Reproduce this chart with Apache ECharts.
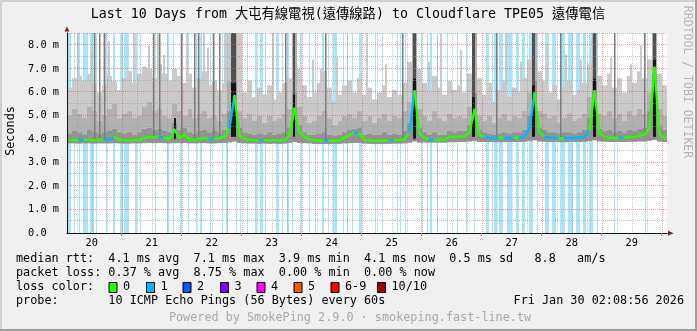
<!DOCTYPE html>
<html><head><meta charset="utf-8">
<script src="https://cdn.jsdelivr.net/npm/echarts@6/dist/echarts.min.js"></script>
<style>html,body{margin:0;padding:0;background:#f0f0f0}#c{width:697px;height:331px}</style>
</head><body><div id="c"></div>
<script>
// ---------------- DATA ----------------
const START = new Date(2026, 0, 20, 2, 8, 56).getTime();   // graph start (10 days before end)
const SPAN_HOURS = 240;
const BIN_HOURS = 2;            // resolution of the smoke / median arrays
const Y_MAX = 8.53;             // seconds axis top (ms)
const dayNumbers = [20, 21, 22, 23, 24, 25, 26, 27, 28, 29];
const yTickValues = [0, 1, 2, 3, 4, 5, 6, 7, 8];
const yMinorValues = [0.5, 1.5, 2.5, 3.5, 4.5, 5.5, 6.5, 7.5, 8.5];

// median rtt per 2h bin (ms)
const median = [
 3.97,3.98,3.97,3.99,3.97,3.96,3.98,3.97,3.99,4.10,
 3.98,3.97,3.96,3.96,3.97,4.05,4.10,4.08,4.12,4.05,
 4.00,4.40,4.05,4.20,3.98,3.97,4.02,4.05,3.99,4.02,
 4.05,4.10,4.50,5.85,4.15,
 4.02,3.97,3.96,3.95,3.96,3.95,3.96,3.95,3.96,4.15,
 5.30,4.30,
 4.10,4.00,3.96,3.94,3.93,3.93,3.94,3.95,4.07,4.18,4.28,4.25,
 3.97,3.95,3.94,3.93,3.94,3.95,3.96,3.97,4.00,4.30,6.05,4.25,
 4.05,3.98,3.97,3.98,3.98,4.10,4.08,4.10,4.12,4.30,5.25,4.18,
 4.08,4.05,4.04,4.04,4.05,4.05,4.06,4.07,4.10,4.45,5.95,4.30,
 4.10,4.06,4.05,4.04,4.04,4.05,4.05,4.06,4.10,4.40,6.05,4.25,
 4.10,4.06,4.05,4.06,4.07,4.08,4.10,4.15,4.20,4.50,7.05,4.20,4.05
];
// lost pings (of 10) per bin, selects the median colour
const medianLoss = [
 1,0,0,1,0,0,0,0,1,1,
 0,0,0,0,0,0,0,0,0,1,
 0,0,0,0,0,0,0,0,0,1,
 0,0,0,1,0,
 0,0,0,0,1,0,0,0,0,0,
 0,0,
 0,0,0,0,0,1,0,0,0,0,0,1,
 0,0,0,0,0,0,1,0,0,0,1,0,
 0,0,1,0,0,0,0,0,0,0,0,0,
 0,1,1,1,0,1,1,0,1,1,1,0,
 0,1,1,1,0,1,1,1,1,1,0,0,
 0,0,0,0,1,0,0,0,0,0,0,0,0
];
// smoke: lowest ping, top of dark core, top of mid band, highest ping
const smokeLow = [
 3.82,3.82,3.81,3.82,3.82,3.81,3.82,3.82,3.82,3.83,
 3.82,3.81,3.81,3.82,3.82,3.83,3.84,3.83,3.84,3.83,
 3.82,3.84,3.83,3.84,3.82,3.82,3.83,3.83,3.82,3.82,
 3.83,3.84,3.86,3.90,3.84,
 3.82,3.81,3.81,3.80,3.81,3.80,3.81,3.80,3.81,3.84,
 3.88,3.84,
 3.83,3.82,3.80,3.79,3.79,3.79,3.80,3.80,3.82,3.83,3.84,3.84,
 3.81,3.80,3.79,3.79,3.80,3.80,3.81,3.81,3.82,3.85,3.90,3.85,
 3.86,3.85,3.85,3.85,3.85,3.87,3.87,3.88,3.88,3.90,3.92,3.88,
 3.88,3.88,3.87,3.87,3.88,3.88,3.88,3.88,3.89,3.92,3.95,3.90,
 3.89,3.88,3.88,3.87,3.87,3.88,3.88,3.88,3.89,3.92,3.95,3.90,
 3.89,3.88,3.88,3.88,3.88,3.89,3.89,3.90,3.90,3.93,3.96,3.90,3.88
];
const smokeDark = [
 4.25,4.35,4.30,4.20,4.40,4.30,4.25,4.30,4.35,4.45,
 4.30,4.25,4.30,4.20,4.30,4.45,4.50,4.40,4.45,4.35,
 4.30,4.70,4.40,4.50,4.30,4.25,4.35,4.40,4.30,4.35,
 4.30,4.40,5.20,6.50,4.50,
 4.30,4.25,4.20,4.25,4.20,4.30,4.20,4.25,4.30,4.50,
 6.00,4.60,
 4.30,4.20,4.20,4.25,4.30,4.20,4.15,4.20,4.30,4.40,4.45,4.50,
 4.20,4.25,4.20,4.20,4.30,4.20,4.25,4.20,4.35,4.70,6.50,4.50,
 4.30,4.20,4.30,4.20,4.20,4.35,4.30,4.35,4.35,4.60,6.00,4.40,
 4.30,4.25,4.20,4.25,4.30,4.25,4.30,4.30,4.40,5.00,6.50,4.50,
 4.40,4.30,4.30,4.25,4.30,4.30,4.25,4.30,4.40,4.90,6.50,4.45,
 4.35,4.40,4.30,4.35,4.30,4.40,4.35,4.45,4.50,5.20,6.80,4.60,4.40
];
const smokeMid = [
 5.0,5.3,5.1,4.9,5.4,5.2,4.8,5.0,5.3,5.5,
 4.9,5.1,5.2,4.9,5.0,5.4,5.6,5.2,5.3,5.0,
 4.9,5.5,5.2,5.0,5.3,4.9,5.1,5.2,4.9,5.0,
 4.8,5.1,6.5,8.6,5.2,
 4.9,5.1,4.8,5.0,4.7,5.0,4.8,4.9,5.1,5.3,
 8.6,5.4,
 5.0,4.7,4.8,5.0,5.2,4.9,4.6,4.8,5.0,5.1,4.9,5.2,
 4.8,5.0,4.7,4.9,5.1,4.8,5.0,4.9,5.2,5.6,8.6,5.3,
 5.0,4.8,5.2,4.9,4.8,5.1,4.9,5.0,4.9,5.4,8.6,5.0,
 4.8,5.0,4.7,4.9,5.1,4.8,5.0,4.9,5.2,6.0,8.6,5.2,
 5.1,4.9,5.0,4.7,4.9,5.1,4.8,4.9,5.1,5.8,8.6,5.1,
 5.0,5.2,4.9,5.1,4.8,5.2,5.0,5.3,5.1,6.0,8.6,5.3,5.0
];
const smokeTop = [
 6.2,6.6,6.7,6.5,6.8,6.4,6.0,6.3,6.7,6.5,
 6.1,6.6,6.9,6.4,6.8,7.1,7.0,6.6,7.2,6.8,
 6.5,7.0,6.7,6.4,6.8,6.2,6.6,6.9,6.3,6.5,
 6.1,6.4,8.6,8.6,8.6,
 6.0,6.5,5.8,6.2,5.9,6.3,5.7,6.0,6.4,6.6,
 8.6,7.0,
 6.3,5.8,6.0,6.4,6.9,6.2,5.6,5.9,6.3,6.5,6.0,6.6,
 5.9,6.2,5.7,6.0,6.3,5.8,6.1,5.9,6.4,7.3,8.6,7.0,
 6.4,6.0,6.7,6.2,5.9,6.5,6.1,6.3,6.0,6.8,8.6,6.6,
 5.9,6.4,5.6,6.1,6.5,5.8,6.2,6.0,6.6,7.4,8.6,6.9,
 6.5,6.0,6.3,5.7,6.2,6.5,5.9,6.1,6.4,7.2,8.6,6.7,
 6.3,6.8,6.2,6.6,6.0,6.7,6.4,6.9,6.6,7.4,8.6,6.8,6.3
];
// dense evening peaks: [startHour, endHour, low ms, black-core top ms, dark smoke top ms]
const peaks = [
 [65.6, 67.6, 4.1, 6.4, 8.6], [90.2, 91.2, 4.1, 5.9, 8.6], [138.4, 139.6, 4.0, 6.6, 8.6],
 [162.0, 163.2, 4.1, 5.8, 8.6], [186.0, 187.2, 4.1, 6.3, 8.6], [210.2, 211.4, 4.1, 6.6, 8.6],
 [234.2, 235.4, 4.1, 7.4, 8.6], [42.8, 43.6, 4.0, 4.9, 4.9]
];
// isolated slow pings: [hour, ms]
const lightSpikes = [
 [4.0,8.6],[9.2,7.8],[14.4,8.6],[16.4,8.2],[26.4,8.6],[32.4,8.0],[36.0,8.6],[38.4,7.6],
 [47.6,8.6],[54.4,8.6],[56.0,7.9],[62.8,8.6],[82.0,8.6],[98.0,7.4],[101.2,7.0],[107.6,7.5],
 [119.6,8.6],[127.2,7.2],[144.4,7.3],[149.2,8.6],[157.2,7.8],[175.2,8.6],[181.2,7.3],
 [191.6,8.0],[199.2,7.6],[205.2,7.4],[217.2,7.5],[225.2,7.2],[229.2,8.0]
];
const darkSpikes = [
 [10.8,8.6],[12.8,8.6],[14.8,8.6],[34.4,8.6],[36.6,8.6],[45.6,8.6],[50.8,8.6],[52.4,8.6],
 [58.4,8.6],[60.8,8.6],[87.2,8.6],[103.2,8.6],[134.0,8.6],[171.6,8.6],[197.2,8.6],
 [218.8,8.6],[230.8,8.6]
];
// periods with packet loss: [startHour, endHour]
const lossPeriods = [
 [0,1.6],[2.8,3.3],[4.7,5.2],[6.3,8.5],[9.2,10.8],[11.7,12.1],[15.5,15.9],[18.4,19.2],
 [21.2,22.4],[22.8,24.7],[27.1,27.9],[29.1,29.5],[35.1,35.5],[39.9,40.7],[42.4,42.8],
 [45.2,46.0],[48.5,48.9],[51.7,52.1],[53.2,54.0],[57.3,57.7],[62.1,62.5],[63.6,64.4],
 [67.5,67.9],[69.1,69.5],[71.9,72.4],[75.1,75.9],[77.2,78.4],[79.1,79.5],[83.6,84.7],
 [86.1,86.5],[87.9,88.7],[89.9,90.3],[93.3,94.0],[96.7,97.1],[99.1,99.5],[102.0,102.8],
 [104.3,104.7],[106.4,107.9],[110.3,110.7],[112.0,112.4],[114.0,114.4],[116.8,118.0],
 [123.2,123.6],[126.0,126.4],[132.0,132.4],[133.2,133.6],[135.2,135.6],[141.6,142.0],
 [144.0,144.4],[145.2,146.0],[148.0,148.4],[152.0,152.4],[155.9,156.3],[159.5,159.9],
 [162.8,163.2],[167.6,168.8],[169.9,170.3],[170.8,171.9],[172.8,174.4],[176.0,178.0],
 [179.5,180.8],[181.9,183.2],[184.8,186.4],[188.0,188.4],[191.2,192.7],[193.9,195.6],
 [197.2,199.2],[200.4,202.3],[203.6,205.2],[206.3,207.6],[208.8,210.4],[211.9,212.4],
 [218.8,219.2],[231.2,231.6]
];
const lossLabels = ['0', '1', '2', '3', '4', '5', '6-9', '10/10'];
const lossColors = ['#26ff00', '#00b8ff', '#0059ff', '#7e00ff', '#ff00ff', '#ff5500', '#ff0000', '#a10000'];
const titleText = 'Last 10 Days from 大屯有線電視(遠傳線路) to Cloudflare TPE05 遠傳電信';
const legendRows = [
 'median rtt:  4.1 ms avg  7.1 ms max  3.9 ms min  4.1 ms now  0.5 ms sd   8.8   am/s',
 'packet loss: 0.37 % avg  8.75 % max  0.00 % min  0.00 % now',
 'loss color:',
 'probe:       10 ICMP Echo Pings (56 Bytes) every 60s'
];
const dateText = 'Fri Jan 30 02:08:56 2026';
const footerText = 'Powered by SmokePing 2.9.0 · smokeping.fast-line.tw';

// ---------------- DERIVED (time positions) ----------------
const hoursOf = t => (t - START) / 3600e3;
const noonHours = dayNumbers.map(d => hoursOf(new Date(2026, 0, d, 12).getTime()));
const midnightHours = [], sixHours = [];
for (let d = 20; d <= 30; d++) {
  for (let hh = 0; hh < 24; hh += 6) {
    const h = hoursOf(new Date(2026, 0, d, hh).getTime());
    if (h <= 0 || h >= SPAN_HOURS) continue;
    (hh === 0 ? midnightHours : sixHours).push(h);
  }
}
const smokeData = median.map((m, i) => [i * BIN_HOURS, (i + 1) * BIN_HOURS, smokeLow[i], smokeDark[i], smokeMid[i], smokeTop[i]]);
// median segments join bin centres: [fromHour, toHour, fromMs, toMs, loss]
const medianData = median.map((m, i) => [
  (i - 0.5) * BIN_HOURS + (i === 0 ? BIN_HOURS / 2 : 0), (i + 0.5) * BIN_HOURS,
  i > 0 ? median[i - 1] : m, m, medianLoss[i]
]);
medianData.push([(median.length - 0.5) * BIN_HOURS, median.length * BIN_HOURS, median[median.length - 1], median[median.length - 1], medianLoss[median.length - 1]]);

// ---------------- STYLE ----------------
const MONO = '"DejaVu Sans Mono", "Noto Sans CJK TC", monospace';
const LOSS_BG = '#aae4fa';
const C_DARK = '#939393', C_MID = '#b1b1b1', C_LIGHT = '#cacaca', C_CORE = '#161616', C_PEAK = '#505050';

function rectBetween(api, h0, h1, v0, v1, fill) {
  const a = api.coord([h0, v1]), b = api.coord([h1, v0]);
  const x0 = Math.round(a[0]), x1 = Math.max(Math.round(b[0]), x0 + 1);
  return { type: 'rect', shape: { x: x0, y: a[1], width: x1 - x0, height: b[1] - a[1] }, style: { fill } };
}

const chart = echarts.init(document.getElementById('c'), null, { renderer: 'canvas', width: 697, height: 331 });

const graphic = [
  { type: 'rect', shape: { x: 0, y: 0, width: 697, height: 2 }, style: { fill: '#cfcfcf' }, z: 100 },
  { type: 'rect', shape: { x: 0, y: 0, width: 2, height: 331 }, style: { fill: '#cfcfcf' }, z: 100 },
  { type: 'rect', shape: { x: 695, y: 0, width: 2, height: 331 }, style: { fill: '#9e9e9e' }, z: 100 },
  { type: 'rect', shape: { x: 0, y: 329, width: 697, height: 2 }, style: { fill: '#9e9e9e' }, z: 100 },
  { type: 'text', x: 348, y: 15, style: { text: titleText, font: '13.3px ' + MONO, fill: '#000', align: 'center', verticalAlign: 'middle' }, z: 100 },
  { type: 'text', x: 11, y: 131, rotation: Math.PI / 2, style: { text: 'Seconds', font: '11.8px ' + MONO, fill: '#000', align: 'center', verticalAlign: 'middle' }, z: 100 },
  { type: 'text', x: 687, y: 82, rotation: -Math.PI / 2, style: { text: 'RRDTOOL / TOBI OETIKER', font: '11.5px ' + MONO, fill: '#b4b4b4', align: 'center', verticalAlign: 'middle' }, z: 100 },
  { type: 'polygon', shape: { points: [[64.5, 31.5], [69.5, 31.5], [67, 26.5]] }, style: { fill: '#8b1a1a' }, z: 100 },
  { type: 'polygon', shape: { points: [[668, 230.8], [668, 235.8], [673.5, 233.3]] }, style: { fill: '#8b1a1a' }, z: 100 },
  { type: 'text', x: 684, y: 301.3, style: { text: dateText, font: '11.8px ' + MONO, fill: '#000', align: 'right', verticalAlign: 'middle' }, z: 100 },
  { type: 'text', x: 350, y: 318.3, style: { text: footerText, font: '11.8px ' + MONO, fill: '#a8a8a8', align: 'center', verticalAlign: 'middle' }, z: 100 }
];
const rowY = [259.3, 273.3, 287.3, 301.3];
legendRows.forEach((t, i) => graphic.push({ type: 'text', x: 16, y: rowY[i], style: { text: t, font: '11.8px ' + MONO, fill: '#000', align: 'left', verticalAlign: 'middle' }, z: 100 }));
const boxX = [108.5, 146, 182.5, 220, 256.5, 293.5, 330.5, 377];
lossLabels.forEach((lab, i) => {
  graphic.push({ type: 'rect', shape: { x: boxX[i] + 0.5, y: 282.5, width: 8, height: 10 }, style: { fill: lossColors[i], stroke: '#000', lineWidth: 1 }, z: 100 });
  graphic.push({ type: 'text', x: boxX[i] + 14.5, y: rowY[2], style: { text: lab, font: '11.8px ' + MONO, fill: '#000', align: 'left', verticalAlign: 'middle' }, z: 100 });
});

chart.setOption({
  animation: false,
  backgroundColor: '#f0f0f0',
  grid: { left: 67, top: 33, width: 600, height: 200, show: true, backgroundColor: '#ffffff', borderWidth: 0 },
  xAxis: {
    type: 'value', min: 0, max: SPAN_HOURS, z: 10,
    axisLine: { lineStyle: { color: '#111', width: 1 } },
    axisTick: { show: true, customValues: midnightHours, length: 3, lineStyle: { color: '#d07070' } },
    axisLabel: { customValues: noonHours, margin: 5, fontFamily: MONO, fontSize: 10.3, color: '#000',
      formatter: v => String(new Date(START + v * 3600e3).getDate()) },
    splitLine: { show: false }
  },
  yAxis: {
    type: 'value', min: 0, max: Y_MAX, interval: 1, z: 10,
    axisLine: { show: true, lineStyle: { color: '#111', width: 1 } },
    axisTick: { show: false },
    axisLabel: { margin: 8, fontFamily: MONO, fontSize: 10.3, color: '#000', showMaxLabel: false,
      formatter: v => v.toFixed(1) + ' ' + (v === 0 ? ' ' : 'm') },
    splitLine: { show: false }
  },
  graphic: graphic,
  series: [
    { type: 'custom', name: 'loss', silent: true, clip: true, z: 1, data: lossPeriods, encode: { x: [0, 1] },
      renderItem: (p, api) => rectBetween(api, api.value(0), api.value(1), 0, Y_MAX, LOSS_BG) },
    { type: 'custom', name: 'smoke', silent: true, clip: true, z: 2, data: smokeData, encode: { x: [0, 1], y: [2, 5] },
      renderItem: (p, api) => {
        const h0 = api.value(0), h1 = api.value(1);
        return { type: 'group', children: [
          rectBetween(api, h0, h1, api.value(4), api.value(5), C_LIGHT),
          rectBetween(api, h0, h1, api.value(3), api.value(4), C_MID),
          rectBetween(api, h0, h1, api.value(2), api.value(3), C_DARK)
        ] };
      } },
    { type: 'custom', name: 'lightSpikes', silent: true, clip: true, z: 3, data: lightSpikes, encode: { x: 0, y: 1 },
      renderItem: (p, api) => {
        const h = api.value(0), bin = Math.min(median.length - 1, Math.floor(h / BIN_HOURS));
        const a = api.coord([h, api.value(1)]), b = api.coord([h, smokeMid[bin]]);
        const x = Math.round(a[0]);
        return { type: 'rect', shape: { x: x, y: a[1], width: 2, height: b[1] - a[1] }, style: { fill: C_LIGHT } };
      } },
    { type: 'custom', name: 'darkSpikes', silent: true, clip: true, z: 3, data: darkSpikes, encode: { x: 0, y: 1 },
      renderItem: (p, api) => {
        const h = api.value(0), bin = Math.min(median.length - 1, Math.floor(h / BIN_HOURS));
        const a = api.coord([h, api.value(1)]), b = api.coord([h, median[bin]]);
        const x = Math.round(a[0]);
        return { type: 'rect', shape: { x: x, y: a[1], width: 1.5, height: b[1] - a[1] }, style: { fill: '#7c7c7c' } };
      } },
    { type: 'custom', name: 'peaks', silent: true, clip: true, z: 4, data: peaks, encode: { x: [0, 1], y: [2, 4] },
      renderItem: (p, api) => {
        const h0 = api.value(0), h1 = api.value(1);
        return { type: 'group', children: [
          rectBetween(api, h0, h1, api.value(3), api.value(4), C_PEAK),
          rectBetween(api, h0, h1, api.value(2), api.value(3), C_CORE)
        ] };
      } },
    { type: 'custom', name: 'grid', silent: true, clip: false, z: 5, data: [[0, 0]], encode: { x: 0, y: 1 },
      renderItem: (p, api) => {
        const kids = [];
        const top = api.coord([0, Y_MAX])[1], bottom = api.coord([0, 0])[1];
        const left = api.coord([0, 0])[0], right = api.coord([SPAN_HOURS, 0])[0];
        const dash = [1, 1];
        const v = (h, c) => { const x = Math.round(api.coord([h, 0])[0]) + 0.5;
          kids.push({ type: 'line', shape: { x1: x, y1: top, x2: x, y2: bottom }, style: { stroke: c, lineWidth: 1, lineDash: dash } }); };
        const hz = (val, c) => { const y = Math.round(api.coord([0, val])[1]) - 0.5;
          kids.push({ type: 'line', shape: { x1: left, y1: y, x2: right, y2: y }, style: { stroke: c, lineWidth: 1, lineDash: dash } }); };
        sixHours.forEach(h => v(h, 'rgba(150,150,150,0.55)'));
        yMinorValues.forEach(y => { if (y < Y_MAX) hz(y, 'rgba(150,150,150,0.55)'); });
        midnightHours.forEach(h => v(h, 'rgba(225,90,90,0.6)'));
        yTickValues.forEach(y => { if (y > 0) hz(y, 'rgba(225,90,90,0.6)'); });
        return { type: 'group', children: kids };
      } },
    { type: 'custom', name: 'median', silent: true, clip: true, z: 6, data: medianData, encode: { x: [0, 1], y: [2, 3] },
      renderItem: (p, api) => {
        const a = api.coord([api.value(0), api.value(2)]), b = api.coord([api.value(1), api.value(3)]);
        return { type: 'line', shape: { x1: a[0], y1: a[1], x2: b[0], y2: b[1] },
          style: { stroke: lossColors[api.value(4)], lineWidth: 2.4, lineCap: 'round' } };
      } }
  ]
});
</script></body></html>
